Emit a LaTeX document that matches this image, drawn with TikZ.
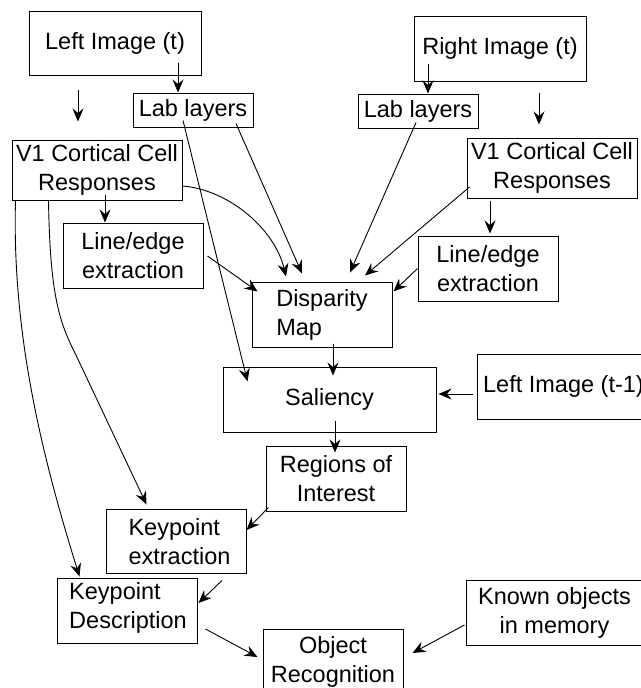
\documentclass[tikz,border=0pt]{standalone}
\usepackage{fontspec}
\setmainfont{Liberation Sans}
\usetikzlibrary{arrows.meta,calc}

\begin{document}
\begin{tikzpicture}[x=1pt,y=-1pt,
  box/.style={draw, line width=1pt, inner sep=0pt, align=center,
    font=\fontsize{23.5}{29}\selectfont},
  txt/.style={inner sep=0pt, align=left, font=\fontsize{23.5}{29}\selectfont},
  arr/.style={-{Stealth[length=13pt,width=11pt,inset=4.5pt]}, line width=0.9pt},
]
\useasboundingbox (0,0) rectangle (640,688);

% left stream
\node[box, minimum width=172pt, minimum height=64pt] (li) at (115,43) {Left Image (t)};
\node[box, minimum width=120pt, minimum height=34pt] (labL) at (193,110) {Lab layers};
\node[box, minimum width=170pt, minimum height=60pt] (v1L) at (97,170) {V1 Cortical Cell\\Responses};
\node[box, minimum width=140pt, minimum height=65pt] (leL) at (133,255.5) {Line/edge\\extraction};

% right stream
\node[box, minimum width=172pt, minimum height=65pt] (ri) at (500,48.5) {Right Image (t)};
\node[box, minimum width=120pt, minimum height=34pt] (labR) at (418,111) {Lab layers};
\node[box, minimum width=170pt, minimum height=60pt] (v1R) at (552,168) {V1 Cortical Cell\\Responses};
\node[box, minimum width=140pt, minimum height=65pt] (leR) at (488,268.5) {Line/edge\\extraction};

% fusion and recognition
\node[box, minimum width=140pt, minimum height=65pt, align=left] (dm) at (322,314.5) {Disparity\\Map};
\node[box, minimum width=213pt, minimum height=65pt] (sal) at (329.5,399.5) {Saliency};
\node[box, minimum width=173pt, minimum height=65pt] (lt1) at (563.5,386.5) {Left Image (t-1)};
\node[box, minimum width=140pt, minimum height=65pt] (roi) at (336,478.5) {Regions of\\Interest};
\node[box, minimum width=140pt, minimum height=64pt] (kpe) at (176,541) {};
\node[txt] (kpetext) at ($(kpe)+(3.5,0.5)$) {Keypoint\\extraction};
\node[box, minimum width=140pt, minimum height=65pt] (kpd) at (127,610.5) {};
\node[txt] (kpdtext) at ($(kpd)+(1,-3)$) {Keypoint\\Description};
\node[box, minimum width=140pt, minimum height=65pt] (orec) at (333,661.5) {Object\\Recognition};
\node[box, minimum width=177pt, minimum height=65pt] (ko) at (554.5,612.5) {Known objects\\in memory};

% loose arrows below the image boxes
\coordinate (freeLa) at ($(li.south)+(-37,14)$);
\coordinate (freeLb) at ($(v1L.north)+(-19,-18)$);
\coordinate (freeRa) at ($(ri.south)+(39,11)$);
\coordinate (freeRb) at ($(v1R.north)+(-13,-13)$);
\draw[arr] (freeLa) -- (freeLb);
\draw[arr] (freeRa) -- (freeRb);

% image -> lab layers
\draw[arr] ($(li.south)+(63,-13)$) -- ($(labL.north)+(-15,0)$);
\draw[arr] ($(ri.south)+(-72,-18)$) -- ($(labR.north)+(10,0)$);

% V1 -> line/edge
\draw[arr] ($(v1L.south)+(8,-6)$) -- ($(leL.north)+(-28,0)$);
\draw[arr] ($(v1R.south)+(-62,2)$) -- ($(leR.north)+(2,-2)$);

% into the disparity map
\draw[arr] ($(labL.south)+(43,-4)$) -- ($(dm.north)+(-20,-8)$);
\draw[arr] ($(v1L.east)+(0,16)$) .. controls (230,190) and (275,230) .. ($(dm.north)+(-36,-5)$);
\draw[arr] ($(leL.east)+(4,0.5)$) -- ($(dm.north west)+(6,10)$);
\draw[arr] ($(labR.south)+(-2,-6)$) -- ($(dm.north)+(28,-9)$);
\draw[arr] ($(v1R.west)+(3,19)$) -- ($(dm.north)+(43,-6)$);
\draw[arr] (leR.west) -- ($(dm.north east)+(1,10)$);

% into saliency
\draw[arr] ($(labL.south)+(-10,-7)$) -- ($(sal.north west)+(25,15)$);
\draw[arr] ($(dm.south)+(11,-4)$) -- ($(sal.north)+(3.5,9)$);
\draw[arr] ($(lt1.west)+(-4,7.5)$) -- ($(sal.east)+(2,-5.5)$);

% down to recognition
\draw[arr] ($(sal.south)+(5.5,-12)$) -- ($(roi.north)+(-1,7)$);
\draw[arr] ($(roi.south west)+(3,-4)$) -- ($(kpe.east)+(0,-11)$);
\draw[arr] ($(kpe.south)+(46,7)$) -- ($(kpd.east)+(1,-7.5)$);
\draw[arr] ($(kpd.east)+(8,18.5)$) -- ($(orec.west)+(-5,-4.5)$);
\draw[arr] ($(ko.west)+(-1,12.5)$) -- ($(orec.east)+(9,-8.5)$);

% long curves from the left V1 responses
\draw[arr] ($(v1L.south west)+(4,0)$) .. controls (12,330) and (40,450) .. ($(kpd.north west)+(23,-1)$);
\draw[arr] ($(v1L.south west)+(37,0)$) .. controls (50,290) and (58,320) .. (75,353) -- ($(kpe.north west)+(41,-4)$);
\end{tikzpicture}
\end{document}
